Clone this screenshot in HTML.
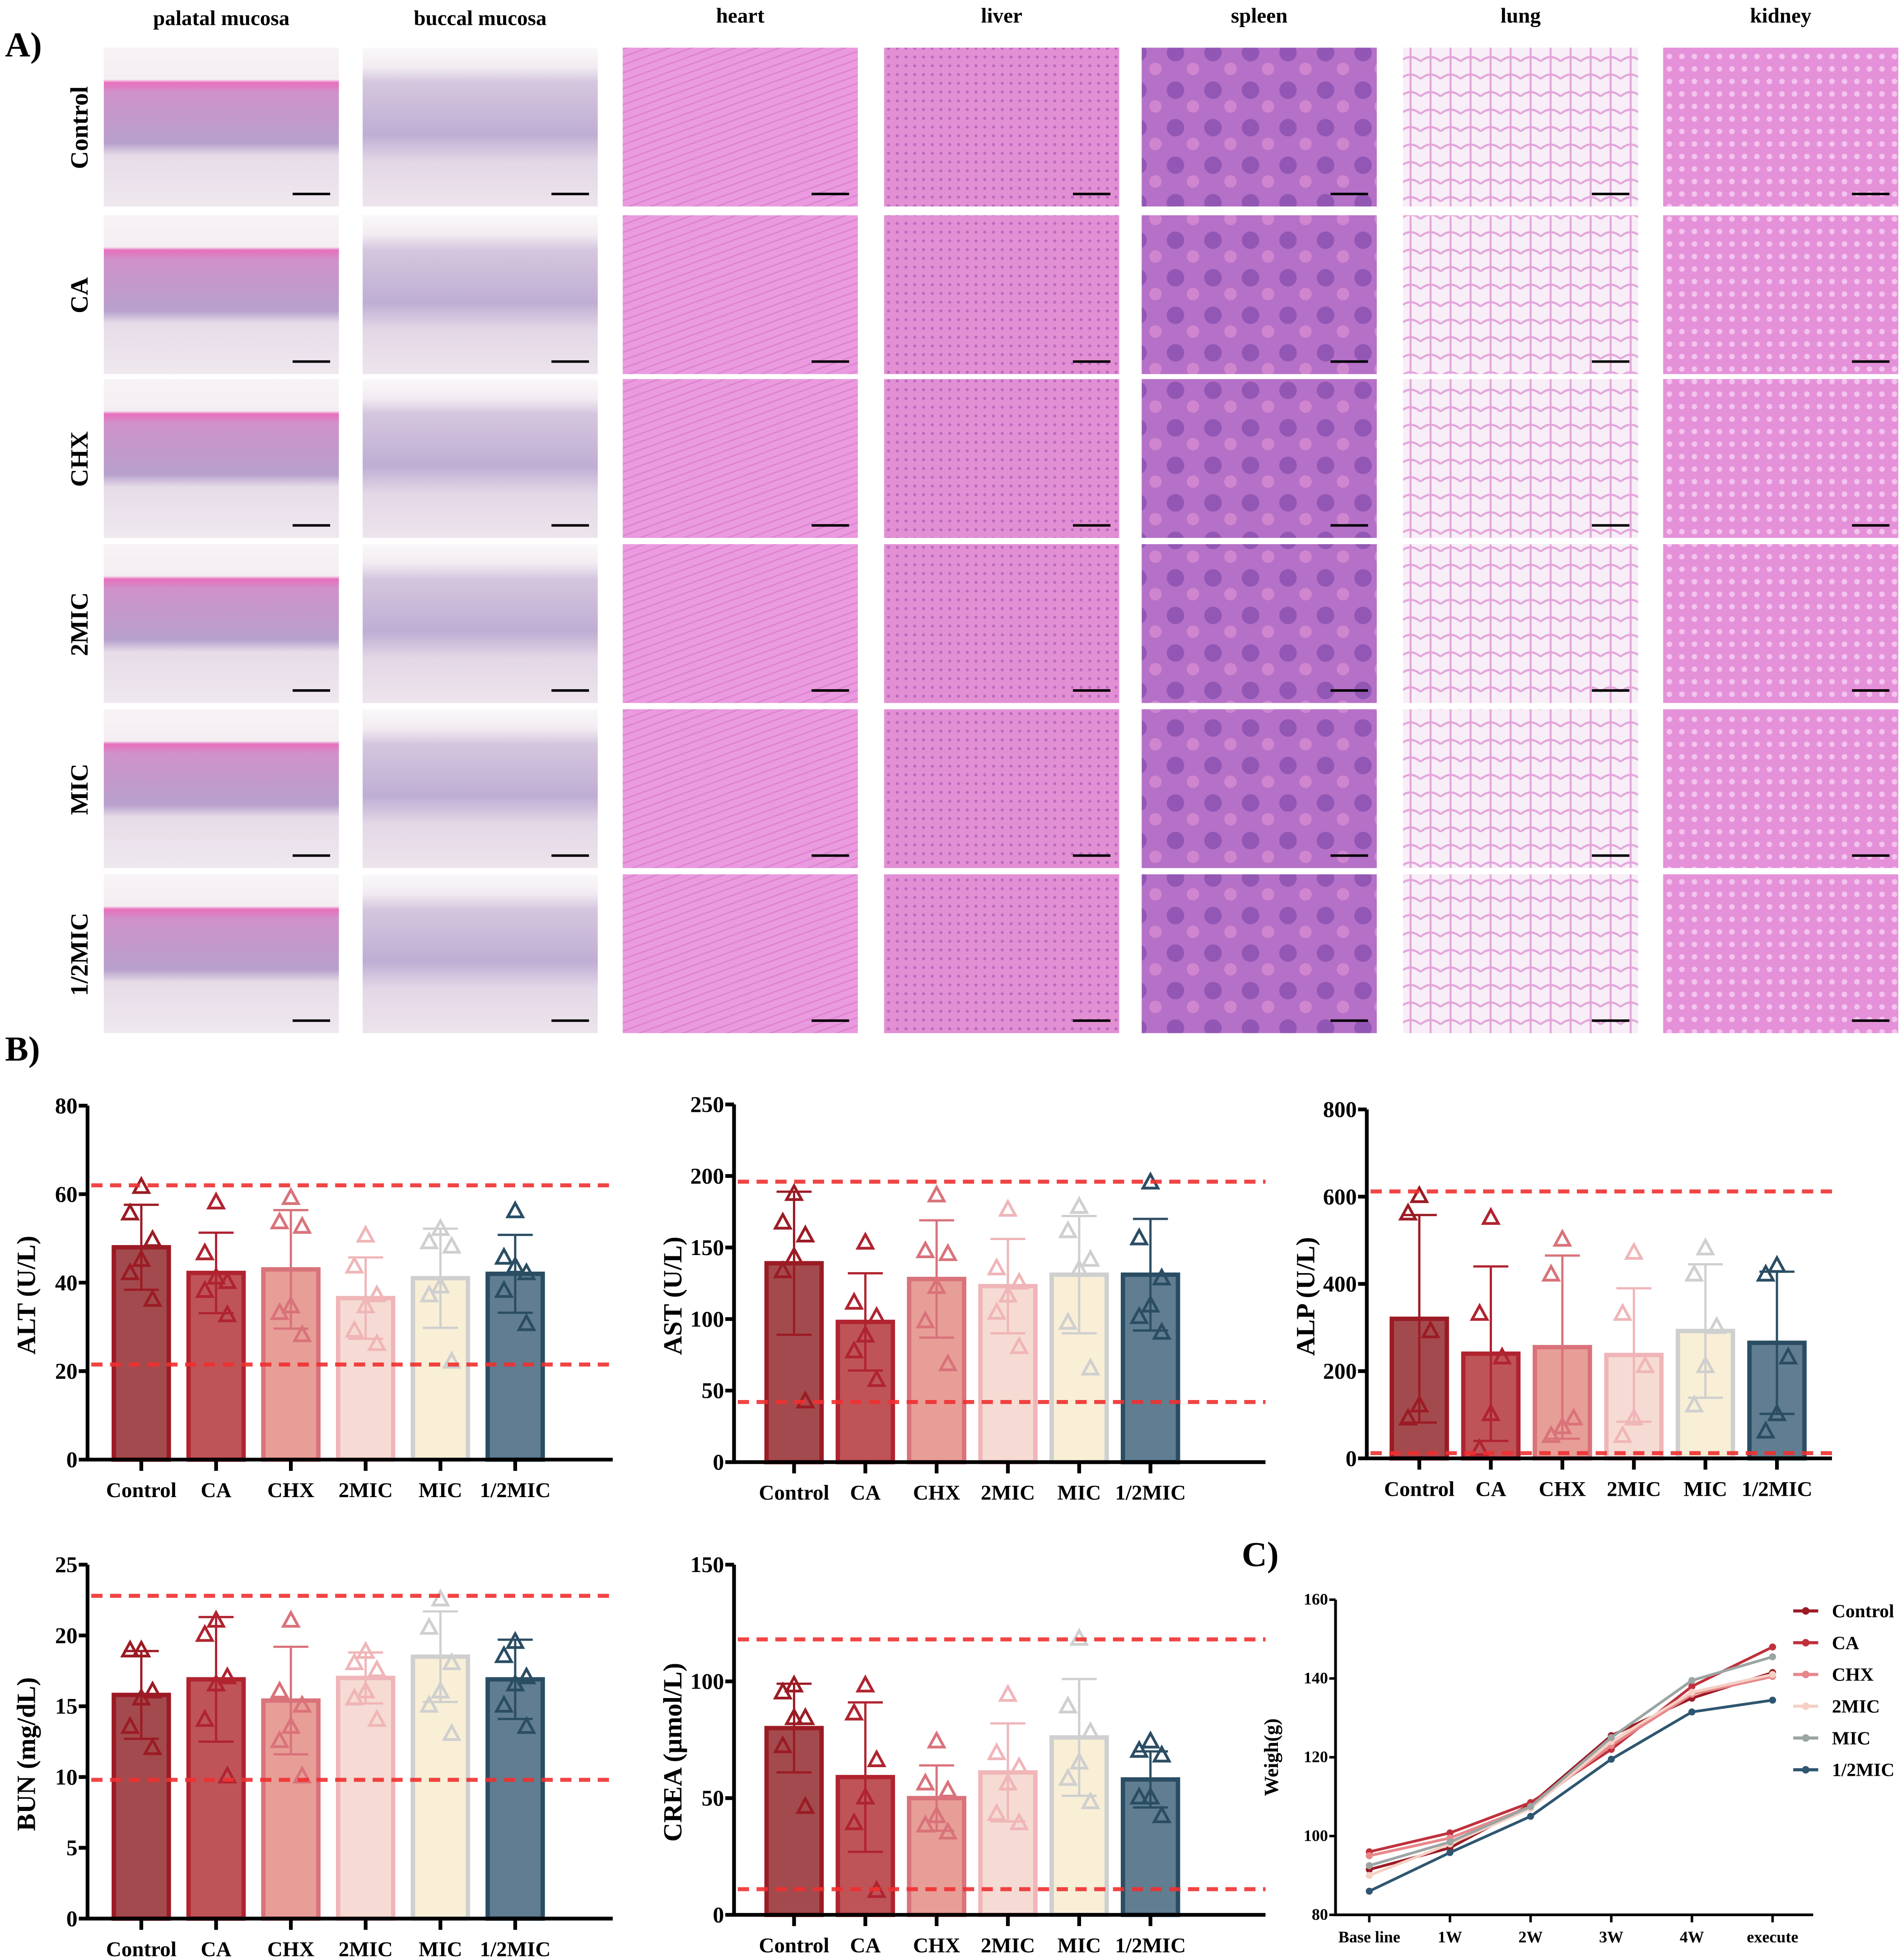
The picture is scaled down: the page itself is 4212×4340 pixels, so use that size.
<!DOCTYPE html>
<html><head><meta charset="utf-8"><style>
html,body{margin:0;padding:0;background:#fff;}
svg{display:block;}
text{font-family:"Liberation Serif",serif;font-weight:bold;fill:#000;}
</style></head><body>
<svg id="fig" xmlns="http://www.w3.org/2000/svg" width="4212" height="4340" viewBox="0 0 1521 1567">
<defs>
<linearGradient id="gPal" x1="0" y1="0" x2="0" y2="1">
<stop offset="0" stop-color="#f7f3f6"/><stop offset="0.2" stop-color="#f4eef3"/><stop offset="0.22" stop-color="#e86fbd"/><stop offset="0.28" stop-color="#cf92c8"/><stop offset="0.6" stop-color="#b7a0cc"/><stop offset="0.68" stop-color="#e6dce8"/><stop offset="1" stop-color="#efe8ef"/></linearGradient>
<linearGradient id="gBuc" x1="0" y1="0" x2="0" y2="1">
<stop offset="0" stop-color="#faf8fa"/><stop offset="0.12" stop-color="#f2ecf2"/><stop offset="0.22" stop-color="#d5c6de"/><stop offset="0.55" stop-color="#bfaed4"/><stop offset="0.72" stop-color="#e3d7e6"/><stop offset="1" stop-color="#ede4ec"/></linearGradient>
<pattern id="pFib" width="8" height="6" patternUnits="userSpaceOnUse" patternTransform="rotate(-20)">
<rect width="8" height="6" fill="#ea9ade"/><line x1="0" y1="3" x2="8" y2="3" stroke="#dd80cf" stroke-width="1"/></pattern>
<pattern id="pLiv" width="7" height="7" patternUnits="userSpaceOnUse">
<rect width="7" height="7" fill="#e28fd3"/><circle cx="3.5" cy="3.5" r="1.2" fill="#b86ac2"/></pattern>
<pattern id="pSpl" width="30" height="30" patternUnits="userSpaceOnUse">
<rect width="30" height="30" fill="#b570c7"/><circle cx="10" cy="12" r="7" fill="#9257b5"/><circle cx="24" cy="25" r="5" fill="#cf86cf"/></pattern>
<pattern id="pLung" width="16" height="14" patternUnits="userSpaceOnUse">
<rect width="16" height="14" fill="#f8eef7"/><path d="M0 7 Q8 0 16 7 M8 0 L8 14" stroke="#e4a5dc" stroke-width="1.6" fill="none"/></pattern>
<pattern id="pKid" width="10" height="10" patternUnits="userSpaceOnUse">
<rect width="10" height="10" fill="#e591d9"/><circle cx="5" cy="5" r="2.2" fill="#f3c4ee"/></pattern>
</defs>

<text x="4" y="45" font-size="28">A)</text>
<text x="4" y="848" font-size="28">B)</text>
<text x="993" y="1252" font-size="28">C)</text>

<g id="histo"></g>
<g id="bars"></g>
<g id="lineC"></g>

<script>
const NS="http://www.w3.org/2000/svg";
function mk(tag,attrs,parent,txt){const e=document.createElementNS(NS,tag);for(const k in attrs)e.setAttribute(k,attrs[k]);if(txt!==undefined)e.textContent=txt;parent.appendChild(e);return e;}

// ---------- Panel A histology ----------
const tissues=["palatal mucosa","buccal mucosa","heart","liver","spleen","lung","kidney"];
const groups=["Control","CA","CHX","2MIC","MIC","1/2MIC"];
const colX=[83,290,498,707,913,1122,1330];
const rowY=[38,172,303,435,567,699];
const fills=["url(#gPal)","url(#gBuc)","url(#pFib)","url(#pLiv)","url(#pSpl)","url(#pLung)","url(#pKid)"];
const H=document.getElementById("histo");
tissues.forEach((t,c)=>{
  const h=mk("text",{x:colX[c]+94,y:c<2?20:18,"font-size":17,"text-anchor":"middle"},H,t);
  
  
});
groups.forEach((g,r)=>{
  const l=mk("text",{transform:`translate(70,${rowY[r]+64}) rotate(-90)`,"font-size":20,"text-anchor":"middle"},H,g);
  
  
  tissues.forEach((t,c)=>{
    const im=mk("rect",{x:colX[c],y:rowY[r],width:188,height:127,fill:fills[c]},H);
    
    
    const sb=mk("line",{x1:colX[c]+151,x2:colX[c]+181,y1:rowY[r]+117,y2:rowY[r]+117,stroke:"#000","stroke-width":2},H);
    
    
  });
});

// ---------- Panel B bar charts ----------
const cats=["Control","CA","CHX","2MIC","MIC","1/2MIC"];
const barFill=["#a34a4e","#be5458","#e79e97","#f5dbd3","#f8efd6","#607d91"];
const barStroke=["#9b1b24","#b0232f","#d9727a","#f0b5b8","#cfcfcf","#2a4d63"];

const altMean=[48,42.2,43,36.5,41,42];
const altSD=[9.6,9.1,13.4,9.2,11.2,8.8];
const altPts=[[61.5,55.5,49.5,45,42,36],[58,46.5,40,41,38,32.5],[59,53.5,52.5,34.5,33,28],[50.5,43.5,37,34.5,29,26],[52,49,48,39,37,22],[56,45.5,42,43.5,38,30.5]];
const altRef=[62,21.5];

const astMean=[139,98,128,123,131,131];
const astSD=[50,34,41,33,41,39];
const astPts=[[187,167,158,143,133,42],[153,111,101,88,77,57],[186,147,145,122,98,68],[176,135,125,116,104,80],[178,161,141,134,97,65],[195,156,128,109,101,90]];
const astRef=[196,42];

const alpMean=[320,240,255,237,292,265];
const alpSD=[238,200,210,153,153,163];
const alpPts=[[600,560,290,120,90],[550,330,230,100,20],[500,420,90,70,50],[470,330,210,90,50],[480,420,300,210,120],[440,420,230,100,60]];
const alpRef=[612,12];

const bunMean=[15.8,16.9,15.4,17,18.5,16.9];
const bunSD=[3.1,4.4,3.8,1.8,3.2,2.8];
const bunPts=[[18.9,18.9,16,15.5,13.5,12],[21,20,17,16.5,14,10],[21,16,15,13.5,12.5,10],[18.8,18,17.5,16,15.5,14],[22.5,20.5,18,16,15,13],[19.5,18.5,17,16.5,15,13.5]];
const bunRef=[22.8,9.8];

const creaMean=[80,59,50,61,76,58];
const creaSD=[19,32,14,21,25,12];
const creaPts=[[98,95,84,84,72,46],[98,86,66,50,39,10],[74,56,53,42,38,35],[94,69,63,56,43,39],[118,89,78,65,58,48],[74,70,68,50,50,42]];
const creaRef=[118,11];

const altTicks=[0,20,40,60,80];
const astTicks=[0,50,100,150,200,250];
const alpTicks=[0,200,400,600,800];
const bunTicks=[0,5,10,15,20,25];
const creaTicks=[0,50,100,150];

const B=document.getElementById("bars");
const jit=[0,-9,9,0,-9,9];
function barChart(o){
  const g=mk("g",{},B);
  
  
  const ymax=o.ticks[o.ticks.length-1];
  const ys=v=>o.y0-v/ymax*(o.y0-o.yTop);
  const xs=i=>o.ax+o.x0+i*o.step;
  o.mean.forEach((m,i)=>{
    const b=mk("rect",{x:xs(i)-22,y:ys(m),width:44,height:o.y0-ys(m),fill:barFill[i],stroke:barStroke[i],"stroke-width":3.5},g);
    
    
  });
  o.mean.forEach((m,i)=>{
    const e=mk("path",{d:`M${xs(i)} ${ys(m-o.sd[i])}V${ys(m+o.sd[i])}M${xs(i)-14} ${ys(m+o.sd[i])}h28M${xs(i)-14} ${ys(m-o.sd[i])}h28`,stroke:barStroke[i],"stroke-width":1.8,fill:"none"},g);
    
    
  });
  o.pts.forEach((arr,i)=>arr.forEach((v,j)=>{
    const cx=xs(i)+jit[j],cy=ys(v);
    const p=mk("path",{d:`M${cx} ${cy-7}L${cx+6} ${cy+4}L${cx-6} ${cy+4}Z`,fill:"none",stroke:barStroke[i],"stroke-width":2.2},g);
    
    
  }));
  o.ref.forEach(r=>{
    const l=mk("line",{x1:o.ax+3,x2:o.xEnd,y1:ys(r),y2:ys(r),stroke:"#f03030","stroke-width":3.2,"stroke-dasharray":"9 6",opacity:0.9},g);
    
    
  });
  const ax=mk("path",{d:`M${o.ax} ${o.yTop}V${o.y0}H${o.xEnd}`,stroke:"#000","stroke-width":3,fill:"none"},g);
  
  
  o.ticks.forEach(t=>{
    mk("line",{x1:o.ax-7,x2:o.ax,y1:ys(t),y2:ys(t),stroke:"#000","stroke-width":3},g);
    const tl=mk("text",{x:o.ax-8,y:ys(t)+6,"font-size":18,"text-anchor":"end"},g,t);
    
    
  });
  cats.forEach((c,i)=>{
    mk("line",{x1:xs(i),x2:xs(i),y1:o.y0,y2:o.y0+9,stroke:"#000","stroke-width":3},g);
    const cl=mk("text",{x:xs(i),y:o.y0+30,"font-size":17,"text-anchor":"middle"},g,c);
    
    
  });
  const yt=mk("text",{transform:`translate(${o.ax-42},${(o.y0+o.yTop)/2+10}) rotate(-90)`,"font-size":21,"text-anchor":"middle"},g,o.title);
  
  
}
barChart({name:"alt-chart",ax:70,y0:1167,yTop:884,xEnd:490,x0:43,step:59.8,ticks:altTicks,mean:altMean,sd:altSD,pts:altPts,ref:altRef,title:"ALT (U/L)"});
barChart({name:"ast-chart",ax:587,y0:1169,yTop:883,xEnd:1012,x0:48,step:57,ticks:astTicks,mean:astMean,sd:astSD,pts:astPts,ref:astRef,title:"AST (U/L)"});
barChart({name:"alp-chart",ax:1093,y0:1166,yTop:887,xEnd:1465,x0:42,step:57.2,ticks:alpTicks,mean:alpMean,sd:alpSD,pts:alpPts,ref:alpRef,title:"ALP (U/L)"});
barChart({name:"bun-chart",ax:70,y0:1534,yTop:1251,xEnd:490,x0:43,step:59.8,ticks:bunTicks,mean:bunMean,sd:bunSD,pts:bunPts,ref:bunRef,title:"BUN (mg/dL)"});
barChart({name:"crea-chart",ax:587,y0:1531,yTop:1251,xEnd:1012,x0:48,step:57,ticks:creaTicks,mean:creaMean,sd:creaSD,pts:creaPts,ref:creaRef,title:"CREA (μmol/L)"});

// ---------- Panel C line chart ----------
const timeLabels=["Base line","1W","2W","3W","4W","execute"];
const wTicks=[80,100,120,140,160];
const wControl=[91.5,97,108,125.5,135,141.5];
const wCA=[96,100.8,108.5,122,138,148];
const wCHX=[95,99.5,107.5,123,136,140.5];
const w2MIC=[90,98,107,124,136.5,141];
const wMIC=[92.5,98.5,107.5,125,139.5,145.5];
const wHalfMIC=[86,95.8,105,119.5,131.5,134.5];
const series=[wControl,wCA,wCHX,w2MIC,wMIC,wHalfMIC];
const lineCol=["#9b1b24","#c0313c","#e8878a","#f5d0c4","#9ba5a3","#2f5670"];
const C=document.getElementById("lineC");
const cx0=1068,cy0=1531,cyT=1279;
const cys=v=>cy0-(v-80)/80*(cy0-cyT);
const cxs=i=>1095+i*64.5;
series.forEach((s,k)=>{
  const d=s.map((v,i)=>(i?"L":"M")+cxs(i)+" "+cys(v)).join("");
  const pl=mk("path",{d:d,stroke:lineCol[k],"stroke-width":2.2,fill:"none"},C);
  
  
  s.forEach((v,i)=>{
    const m=mk("circle",{cx:cxs(i),cy:cys(v),r:2.8,fill:lineCol[k]},C);
    
    
  });
  const ly=1288+k*25.4;
  const le=mk("g",{},C);
  
  
  mk("line",{x1:1434,x2:1454,y1:ly,y2:ly,stroke:lineCol[k],"stroke-width":2.5},le);
  mk("circle",{cx:1444,cy:ly,r:3,fill:lineCol[k]},le);
  mk("text",{x:1465,y:ly+5,"font-size":15},le,groups[k]);
});
const cax=mk("path",{d:`M${cx0} ${cyT}V${cy0}H1450`,stroke:"#000","stroke-width":2.2,fill:"none"},C);


wTicks.forEach(t=>{
  mk("line",{x1:cx0-5,x2:cx0,y1:cys(t),y2:cys(t),stroke:"#000","stroke-width":2},C);
  const tl=mk("text",{x:cx0-6,y:cys(t)+4,"font-size":13,"text-anchor":"end"},C,t);
  
  
});
timeLabels.forEach((t,i)=>{
  mk("line",{x1:cxs(i),x2:cxs(i),y1:cy0,y2:cy0+6,stroke:"#000","stroke-width":2},C);
  const tl=mk("text",{x:cxs(i),y:cy0+22,"font-size":13,"text-anchor":"middle"},C,t);
  
  
});
const wt=mk("text",{transform:`translate(1022,1405) rotate(-90)`,"font-size":16,"text-anchor":"middle"},C,"Weigh(g)");


</script>
</svg>
</body></html>
